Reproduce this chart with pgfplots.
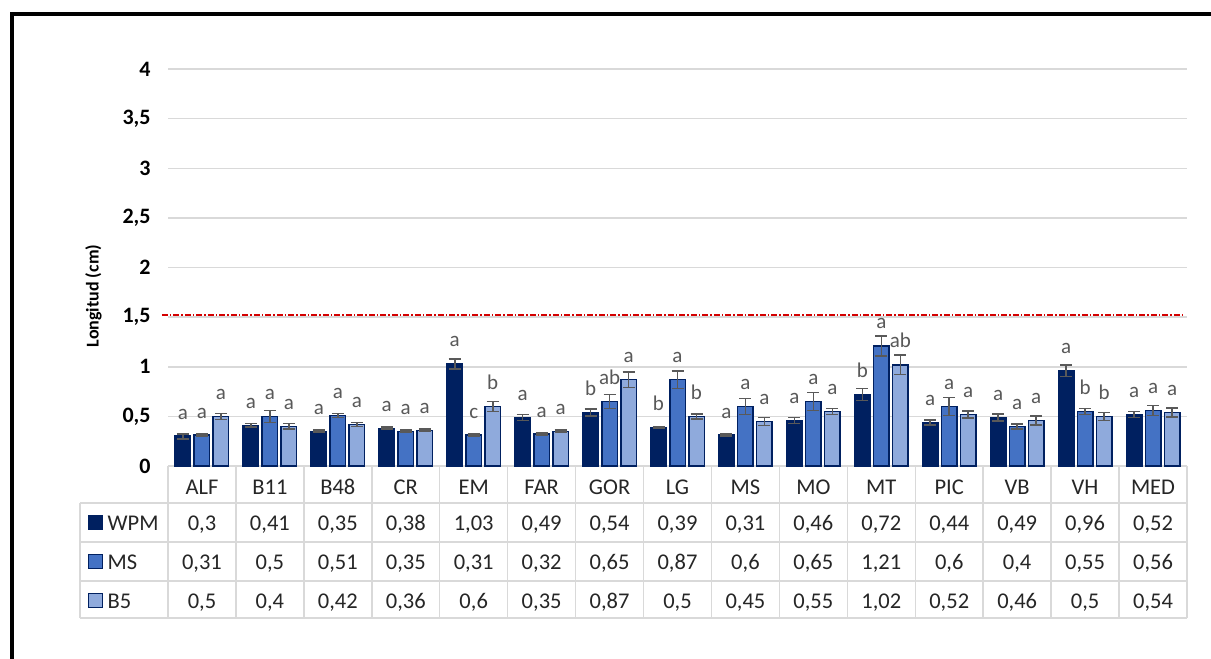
\documentclass[border=0pt]{standalone}
\usepackage{pgfplots}
\pgfplotsset{compat=1.18}
\usepackage{pgfplotstable}
\usepackage{fontspec}
\setmainfont{Carlito}
\definecolor{cwpm}{HTML}{002060}
\definecolor{cms}{HTML}{4472C4}
\definecolor{cbf}{HTML}{8FAADC}
\definecolor{edge}{HTML}{002060}
\definecolor{lab}{HTML}{595959}
\definecolor{gridc}{HTML}{D9D9D9}
\definecolor{txt}{HTML}{262626}
\definecolor{refred}{HTML}{D40000}

\pgfplotstableread{
x cat wpm wpme wpml ms mse msl bf bfe bfl
0 ALF 0.30 0.025 a 0.31 0.01 a 0.50 0.03 a
1 B11 0.41 0.02 a 0.50 0.06 a 0.40 0.03 a
2 B48 0.35 0.01 a 0.51 0.02 a 0.42 0.02 a
3 CR 0.38 0.01 a 0.35 0.01 a 0.36 0.01 a
4 EM 1.03 0.05 a 0.31 0.01 c 0.60 0.05 b
5 FAR 0.49 0.03 a 0.32 0.01 a 0.35 0.01 a
6 GOR 0.54 0.035 b 0.65 0.07 ab 0.87 0.08 a
7 LG 0.39 0.01 b 0.87 0.09 a 0.50 0.025 b
8 MS 0.31 0.01 a 0.60 0.08 a 0.45 0.04 a
9 MO 0.46 0.03 a 0.65 0.09 a 0.55 0.03 a
10 MT 0.72 0.06 b 1.21 0.10 a 1.02 0.10 ab
11 PIC 0.44 0.025 a 0.60 0.09 a 0.52 0.035 a
12 VB 0.49 0.035 a 0.40 0.025 a 0.46 0.045 a
13 VH 0.96 0.06 a 0.55 0.03 b 0.50 0.04 b
14 MED 0.52 0.03 a 0.56 0.05 a 0.54 0.045 a
}\data

\pgfplotsset{
  mybar/.style={
    draw=edge, line width=1.5bp,
    error bars/.cd, y dir=both, y explicit,
      error bar style={lab, line width=1.6bp},
      error mark options={rotate=90, lab, line width=1.6bp, mark size=6bp},
    /pgfplots/.cd,
    nodes near coords, point meta=explicit symbolic,
    every node near coord/.append style={font=\fontsize{21bp}{24bp}\selectfont, text=lab, anchor=base, yshift=17bp, inner sep=0pt},
  }
}

\newcommand\tfont{\fontsize{22.5bp}{26bp}\selectfont}

\begin{document}
\begin{tikzpicture}[x=1bp,y=1bp]
\useasboundingbox (0,0) rectangle (1211,-659);
\fill[white] (0,0) rectangle (1211,-659);
\begin{axis}[
  at={(168bp,-466bp)}, anchor=south west,
  scale only axis, width=1019bp, height=397bp,
  xmin=-0.5, xmax=14.5, ymin=0, ymax=4,
  ytick={0,0.5,1,1.5,2,2.5,3,3.5,4},
  xtick=\empty,
  axis line style={draw=none},
  ymajorgrids, grid style={gridc, line width=1.5bp},
  major tick length=0pt,
  /pgf/number format/use comma,
  /pgf/number format/assume math mode=true,
  yticklabel style={font=\fontsize{22bp}{24bp}\selectfont\bfseries, xshift=-14bp, text=black},
  ybar, bar width=15.5bp,
  clip=false,
]
\addplot[mybar, fill=cwpm, bar shift=-19bp] table[x=x, y=wpm, y error=wpme, meta=wpml]{\data};
\addplot[mybar, fill=cms, bar shift=0bp] table[x=x, y=ms, y error=mse, meta=msl]{\data};
\addplot[mybar, fill=cbf, bar shift=19bp] table[x=x, y=bf, y error=bfe, meta=bfl]{\data};
\addplot[sharp plot, refred, line width=1.3bp, dash pattern=on 6bp off 2bp on 1.5bp off 2bp, mark=none] coordinates {(-0.59,1.52) (14.47,1.52)};
\end{axis}

% data table grid
\begin{scope}[gridc, line width=1.5bp]
\foreach \k in {0,...,15} {
  \pgfmathsetmacro\xk{168+67.933*\k}
  \draw (\xk,-466) -- (\xk,-618);
}
\foreach \yy in {-503,-542,-581,-618} \draw (80,\yy) -- (1187,\yy);
\draw (80,-503) -- (80,-618);
\end{scope}

\foreach \i in {0,...,14} {
  \pgfmathsetmacro\xc{168+67.933*(\i+0.5)}
  \pgfplotstablegetelem{\i}{cat}\of\data
  \node[txt, font=\tfont, anchor=base, inner sep=0pt] at (\xc,-494) {\pgfplotsretval};
  \pgfplotstablegetelem{\i}{wpm}\of\data
  \node[txt, font=\tfont, anchor=base, inner sep=0pt] at (\xc,-530) {\pgfmathprintnumber[use comma, assume math mode=true]{\pgfplotsretval}};
  \pgfplotstablegetelem{\i}{ms}\of\data
  \node[txt, font=\tfont, anchor=base, inner sep=0pt] at (\xc,-569) {\pgfmathprintnumber[use comma, assume math mode=true]{\pgfplotsretval}};
  \pgfplotstablegetelem{\i}{bf}\of\data
  \node[txt, font=\tfont, anchor=base, inner sep=0pt] at (\xc,-608) {\pgfmathprintnumber[use comma, assume math mode=true]{\pgfplotsretval}};
}

% legend keys
\filldraw[fill=cwpm, draw=edge, line width=1.2bp] (88.5,-515.5) rectangle (102.5,-529.5);
\filldraw[fill=cms, draw=edge, line width=1.2bp] (88.5,-554.5) rectangle (102.5,-568.5);
\filldraw[fill=cbf, draw=edge, line width=1.2bp] (88.5,-593.5) rectangle (102.5,-607.5);
\node[txt, font=\tfont, anchor=base west, inner sep=0pt] at (107.5,-530) {WPM};
\node[txt, font=\tfont, anchor=base west, inner sep=0pt] at (107.5,-569) {MS};
\node[txt, font=\tfont, anchor=base west, inner sep=0pt] at (107.5,-608) {B5};

% axis title
\node[rotate=90, font=\bfseries\fontsize{18bp}{20bp}\selectfont, inner sep=0pt] at (93.5,-296) {Longitud (cm)};

% frame
\draw[black, line width=4bp] (11.5,-660) -- (11.5,-14.5) -- (1212,-14.5);
\end{tikzpicture}
\end{document}
